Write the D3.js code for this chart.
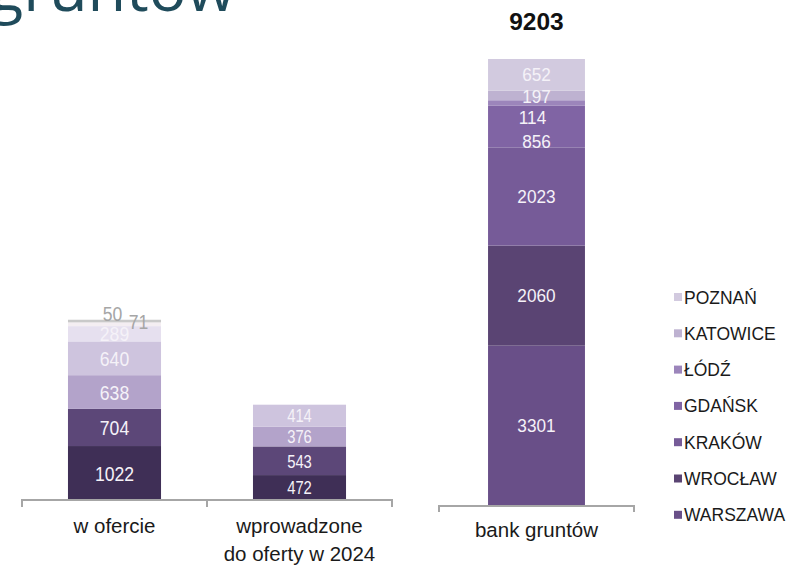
<!DOCTYPE html>
<html>
<head>
<meta charset="utf-8">
<script src="https://cdn.jsdelivr.net/npm/d3@7"></script>
<style>
  body { margin: 0; background: #fff; }
  svg { display: block; font-family: "Liberation Sans", Arial, sans-serif; }
</style>
</head>
<body>
<svg id="chart" width="792" height="567"></svg>
<script>
// cities from the bottom of each stack to the top
const cities = ['WARSZAWA', 'WROCŁAW', 'KRAKÓW', 'GDAŃSK', 'ŁÓDŹ', 'KATOWICE', 'POZNAŃ']

const leftCategories = ['w ofercie', 'wprowadzone|do oferty w 2024']
const wOfercie = [1022, 704, 638, 640, 289, 71, 50]
const wprowadzone = [472, 543, 376, 414, 0, 0, 0]

const rightCategories = ['bank gruntów']
const bankGruntow = [3301, 2060, 2023, 856, 114, 197, 652]

const leftColors = ['#3f2f56', '#5c4778', '#b3a3ca', '#cec4de', '#e6e0ef', '#f4eef2', '#c9c9c9']
const rightColors = ['#694f88', '#5a4473', '#765b98', '#8064a4', '#9c85bb', '#beb2d1', '#d2cadf']

let svg = d3.select('#chart')

// big title, cut by the top edge
svg.append('text')
   .attr('x', -11)
   .attr('y', 11)
   .attr('font-family', '"Open Sans", sans-serif')
   .attr('font-size', 63)
   .attr('fill', '#1f4b5b')
   .text('gruntów')

let stackOf = (values) => {
    let acc = 0
    return values.map((v, i) => {
        let seg = {city: cities[i], value: v, y0: acc, y1: acc + v, i: i}
        acc += v
        return seg
    })
}

let axisColor = '#a6a6a6'

// ---------- left chart ----------
let xLeft = d3.scaleBand()
              .domain(leftCategories)
              .range([22, 392])
              .paddingInner(0.497)
              .paddingOuter(0.2485)
let yLeft = d3.scaleLinear()
              .domain([0, 4000])
              .range([500, 500 - 4000 * 0.0528])

let leftData = [wOfercie, wprowadzone]

leftData.forEach((values, c) => {
    let cat = leftCategories[c]
    let segs = stackOf(values).filter(s => s.value > 0)
    let g = svg.append('g')

    g.selectAll('rect')
     .data(segs)
     .enter()
     .append('rect')
     .attr('x', xLeft(cat))
     .attr('width', xLeft.bandwidth())
     .attr('y', s => yLeft(s.y1))
     .attr('height', s => yLeft(s.y0) - yLeft(s.y1))
     .attr('fill', s => leftColors[s.i])

    let cx = xLeft(cat) + xLeft.bandwidth() / 2
    let fs = c === 0 ? 21 : 19
    let squeeze = c === 0 ? 0.84 : 0.78
    g.selectAll('text')
     .data(segs)
     .enter()
     .append('text')
     .attr('font-size', fs)
     .attr('text-anchor', 'middle')
     .attr('fill', s => s.value < 100 ? '#a6a6a6' : '#f5f2f8')
     .attr('transform', s => {
        let mid = (yLeft(s.y0) + yLeft(s.y1)) / 2
        let x = cx
        let y = mid + fs * 0.36
        if (s.value < 100 && s.city === 'KATOWICE') { x = cx + 24; y = mid + 4.5 }
        else if (s.value < 100) { x = cx - 2; y = yLeft(s.y1) + 1 }
        return 'translate(' + x + ',' + y + ') scale(' + squeeze + ',1)'
     })
     .text(s => s.value)
})

// axis with ticks between categories
let leftEdges = d3.range(leftCategories.length + 1).map(k => xLeft.range()[0] + k * xLeft.step())
svg.append('line')
   .attr('x1', xLeft.range()[0]).attr('x2', xLeft.range()[1])
   .attr('y1', 500).attr('y2', 500)
   .attr('stroke', axisColor).attr('stroke-width', 2)
svg.selectAll('.ltick')
   .data(leftEdges)
   .enter()
   .append('line')
   .attr('x1', d => d).attr('x2', d => d)
   .attr('y1', 499).attr('y2', 507)
   .attr('stroke', axisColor).attr('stroke-width', 2)

leftCategories.forEach((cat) => {
    let lines = cat.split('|')
    let t = svg.append('text')
               .attr('text-anchor', 'middle')
               .attr('font-size', 20.5)
               .attr('fill', '#1a1a1a')
    lines.forEach((line, k) => {
        t.append('tspan')
         .attr('x', xLeft(cat) + xLeft.bandwidth() / 2)
         .attr('y', 533 + k * 28)
         .text(line)
    })
})

// ---------- right chart ----------
let xRight = d3.scaleBand()
               .domain(rightCategories)
               .range([439, 634])
               .paddingInner(0.503)
               .paddingOuter(0.2515)
let yRight = d3.scaleLinear()
               .domain([0, 10000])
               .range([506, 506 - 10000 * 0.04857])

let rightSegs = stackOf(bankGruntow)
let rcat = rightCategories[0]
let rcx = xRight(rcat) + xRight.bandwidth() / 2
let labelNudge = {'ŁÓDŹ': 14, 'GDAŃSK': 15, 'KATOWICE': 1}

svg.append('g')
   .selectAll('rect')
   .data(rightSegs)
   .enter()
   .append('rect')
   .attr('x', xRight(rcat))
   .attr('width', xRight.bandwidth())
   .attr('y', s => yRight(s.y1))
   .attr('height', s => yRight(s.y0) - yRight(s.y1))
   .attr('fill', s => rightColors[s.i])

svg.append('g')
   .selectAll('text')
   .data(rightSegs)
   .enter()
   .append('text')
   .attr('font-size', 18.5)
   .attr('text-anchor', 'middle')
   .attr('fill', '#f5f2f8')
   .attr('transform', s => {
      let x = s.city === 'ŁÓDŹ' ? rcx - 4 : rcx
      let y = (yRight(s.y0) + yRight(s.y1)) / 2 + 6.5 + (labelNudge[s.city] || 0)
      return 'translate(' + x + ',' + y + ') scale(0.93,1)'
   })
   .text(s => s.value)

svg.append('text')
   .attr('x', rcx)
   .attr('y', 30)
   .attr('text-anchor', 'middle')
   .attr('font-size', 24.5)
   .attr('font-weight', 'bold')
   .attr('fill', '#111')
   .text(d3.sum(bankGruntow))

svg.append('path')
   .attr('d', `M${xRight.range()[0]},512V506H${xRight.range()[1]}V512`)
   .attr('fill', 'none')
   .attr('stroke', axisColor)
   .attr('stroke-width', 2)

svg.append('text')
   .attr('x', rcx)
   .attr('y', 537)
   .attr('text-anchor', 'middle')
   .attr('font-size', 20.5)
   .attr('fill', '#1a1a1a')
   .text(rcat)

// ---------- legend (top to bottom) ----------
let legendItems = cities.map((c, i) => ({city: c, color: rightColors[i]})).reverse()
let legend = svg.append('g')
                .selectAll('g')
                .data(legendItems)
                .enter()
                .append('g')
                .attr('transform', (d, i) => 'translate(674,' + (297 + i * 36.3) + ')')
legend.append('rect')
      .attr('x', 0).attr('y', -4)
      .attr('width', 8).attr('height', 8)
      .attr('fill', d => d.color)
legend.append('text')
      .attr('x', 10)
      .attr('y', 6.5)
      .attr('font-size', 17.5)
      .attr('fill', '#1a1a1a')
      .text(d => d.city)
</script>
</body>
</html>
